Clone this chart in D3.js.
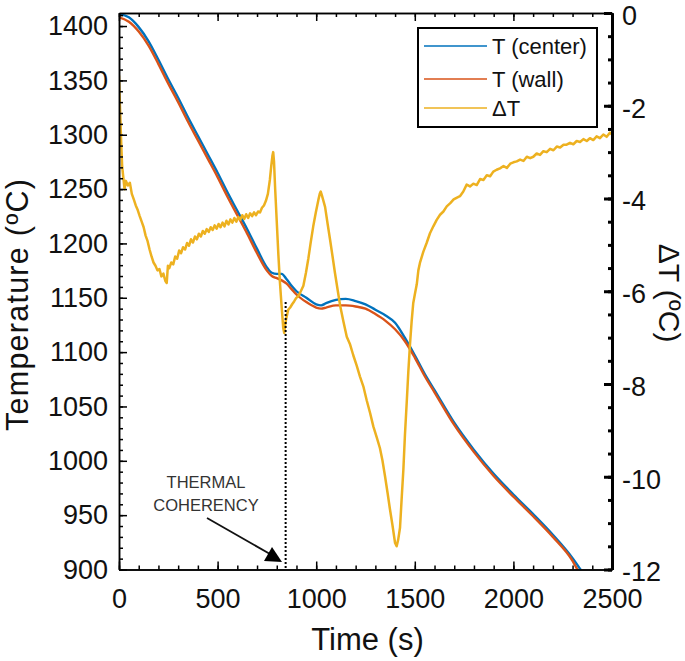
<!DOCTYPE html>
<html><head><meta charset="utf-8">
<script src="https://cdn.jsdelivr.net/npm/d3@7"></script>
<style>
html,body{margin:0;padding:0;background:#fff;}
svg text{font-family:"Liberation Sans",Arial,sans-serif;}
</style></head>
<body><svg id="c" width="685" height="661"></svg>
<script>
// ---- data ----
const timeTicks = [0, 500, 1000, 1500, 2000, 2500];
const tempTicks = [900, 950, 1000, 1050, 1100, 1150, 1200, 1250, 1300, 1350, 1400];
const dtTicks = [0, -2, -4, -6, -8, -10, -12];

const tCenterTime = [0,50,100,150,200,250,300,350,400,450,500,550,600,650,700,750,775,800,825,850,875,900,950,1000,1025,1050,1100,1150,1200,1250,1300,1350,1400,1450,1500,1550,1600,1700,1800,1900,2000,2100,2200,2300,2340,2360];
const tCenterTemp = [1411,1408,1399,1386,1369,1351,1334,1316,1299,1282,1265,1247,1230,1213,1195,1178,1173,1172,1172,1167,1161,1156,1150,1144,1143,1145,1148,1149,1147,1144,1139,1134,1127,1113,1097,1080,1065,1035,1010,988,969,951,932,910.5,900,894];

const tWallTime = [0,50,100,150,200,250,300,350,400,450,500,550,600,650,700,750,775,800,825,850,875,900,950,1000,1025,1050,1100,1150,1200,1250,1300,1350,1400,1450,1500,1550,1600,1700,1800,1900,2000,2100,2200,2300,2325,2345];
const tWallTemp = [1408,1404,1395,1382,1365,1347,1330,1312,1295,1278,1261,1243,1226,1209,1191,1175,1170,1168,1166,1163,1158,1153,1146,1141,1140,1141,1143,1143,1142,1140,1135,1129,1121,1110,1095,1078,1063,1033,1008,986,967,949,930,908,900,894];

const dTTime = [0,4,8,12,16,22,28,35,45,55,65,75,85,95,105,115,125,135,145,155,165,175,185,195,205,215,225,235,242,248,255,265,275,285,295,305,315,325,335,345,355,365,375,385,395,405,415,425,435,445,455,465,475,485,495,505,515,525,535,545,555,565,575,585,595,605,615,625,635,645,655,665,675,685,695,705,715,725,735,745,755,765,772,778,782,786,792,800,808,816,825,833,838,843,850,858,868,878,888,898,910,922,935,948,960,972,985,998,1011,1018,1023,1030,1045,1058,1070,1083,1095,1108,1121,1138,1155,1172,1188,1205,1222,1239,1256,1273,1290,1307,1323,1336,1349,1362,1374,1387,1400,1408,1416,1425,1433,1442,1450,1459,1467,1476,1484,1492,1501,1510,1518,1526,1543,1560,1577,1594,1611,1628,1645,1662,1680,1697,1714,1729,1746,1763,1780,1797,1814,1831,1848,1865,1882,1898,1915,1932,1950,1967,1984,2000,2017,2034,2051,2068,2085,2101,2118,2135,2152,2169,2186,2203,2220,2237,2254,2270,2287,2304,2321,2338,2355,2372,2388,2405,2422,2439,2456,2473,2490,2500];
const dTValue = [-1.35,-1.9,-2.4,-2.9,-3.3,-3.55,-3.8,-3.62,-3.72,-3.66,-3.9,-4.02,-4.15,-4.25,-4.38,-4.5,-4.62,-4.8,-4.92,-5.1,-5.25,-5.38,-5.45,-5.55,-5.52,-5.68,-5.62,-5.78,-5.82,-5.45,-5.5,-5.38,-5.42,-5.25,-5.3,-5.12,-5.18,-5.05,-5.1,-4.96,-5.02,-4.88,-4.95,-4.82,-4.88,-4.76,-4.82,-4.7,-4.76,-4.66,-4.72,-4.62,-4.68,-4.58,-4.65,-4.55,-4.62,-4.52,-4.6,-4.48,-4.56,-4.45,-4.52,-4.42,-4.5,-4.4,-4.46,-4.36,-4.44,-4.34,-4.42,-4.32,-4.38,-4.3,-4.36,-4.28,-4.3,-4.2,-4.15,-4.05,-3.9,-3.6,-3.3,-3.08,-3.0,-3.2,-3.8,-4.5,-5.2,-5.8,-6.35,-6.8,-6.9,-6.7,-6.55,-6.4,-6.35,-6.28,-6.22,-6.15,-6.1,-6.0,-5.88,-5.6,-5.3,-4.95,-4.6,-4.3,-4.03,-3.9,-3.85,-3.95,-4.18,-4.55,-4.88,-5.25,-5.6,-5.95,-6.3,-6.65,-6.98,-7.15,-7.38,-7.6,-7.84,-8.05,-8.35,-8.62,-8.92,-9.15,-9.38,-9.65,-9.99,-10.35,-10.7,-11.05,-11.43,-11.5,-11.35,-11.1,-10.5,-9.85,-9.1,-8.4,-7.75,-7.12,-6.65,-6.26,-6.05,-5.85,-5.55,-5.39,-5.15,-4.96,-4.75,-4.6,-4.46,-4.35,-4.28,-4.17,-4.1,-4.02,-3.98,-3.95,-3.85,-3.7,-3.74,-3.68,-3.71,-3.58,-3.6,-3.5,-3.52,-3.42,-3.38,-3.35,-3.3,-3.34,-3.25,-3.22,-3.2,-3.16,-3.19,-3.1,-3.13,-3.1,-3.03,-3.06,-2.98,-3.0,-2.93,-2.96,-2.88,-2.9,-2.84,-2.84,-2.8,-2.83,-2.76,-2.78,-2.72,-2.76,-2.7,-2.74,-2.66,-2.7,-2.62,-2.67,-2.58,-2.62];

const seriesNames = ["T (center)", "T (wall)", "\u0394T"];
const coherencyTime = 845;
const coherencyTop = 1146;

// ---- layout ----
const L = 119, R = 612, T = 13, B = 569.5;
const colors = ["#0072BD", "#D95319", "#EDB120"];
const svg = d3.select("#c");

const x = d3.scaleLinear().domain([0, 2500]).range([L, R]);
const y = d3.scaleLinear().domain([900, 1412]).range([B, T]);
const y2 = d3.scaleLinear().domain([-12, 0]).range([B, T]);

svg.append("clipPath").attr("id", "clip").append("rect")
  .attr("x", L).attr("y", T).attr("width", R - L).attr("height", B - T);

const g = svg.append("g").attr("clip-path", "url(#clip)");
const lineT = d3.line().curve(d3.curveMonotoneX).x(d => x(d[0])).y(d => y(d[1]));
const lineD = d3.line().x(d => x(d[0])).y(d => y2(d[1]));

g.append("path").datum(tCenterTime.map((t, i) => [t, tCenterTemp[i]]))
  .attr("d", lineT).attr("fill", "none").attr("stroke", colors[0]).attr("stroke-width", 2.4);
g.append("path").datum(tWallTime.map((t, i) => [t, tWallTemp[i]]))
  .attr("d", lineT).attr("fill", "none").attr("stroke", colors[1]).attr("stroke-width", 2.4);
g.append("path").datum(dTTime.map((t, i) => [t, dTValue[i]]))
  .attr("d", lineD).attr("fill", "none").attr("stroke", colors[2]).attr("stroke-width", 2.5)
  .attr("stroke-linejoin", "round");

// dotted line
svg.append("line").attr("x1", x(coherencyTime)).attr("x2", x(coherencyTime))
  .attr("y1", y(coherencyTop)).attr("y2", B)
  .attr("stroke", "#000").attr("stroke-width", 2).attr("stroke-dasharray", "2,2");

// axes
function styleAxis(sel, w, fs) {
  sel.selectAll("path").attr("stroke", "#000").attr("stroke-width", w);
  sel.selectAll("line").attr("stroke", "#000").attr("stroke-width", w);
  sel.selectAll("text").attr("font-size", fs).attr("fill", "#111")
    .style("font-family", "'Liberation Sans', Arial, sans-serif");
}
const minorX = d3.range(0, 2501, 100);
const minorT = d3.range(900, 1411, 10);
const minorD = d3.range(-12, 0.01, 0.5);

// bottom
svg.append("g").attr("transform", `translate(0,${B})`)
  .call(d3.axisBottom(x).tickValues(minorX).tickSize(-4).tickSizeOuter(0).tickFormat(""))
  .call(s => styleAxis(s, 1.5, 0));
svg.append("g").attr("transform", `translate(0,${B})`)
  .call(d3.axisBottom(x).tickValues(timeTicks).tickSize(-8).tickSizeOuter(0).tickPadding(19).tickFormat(d3.format("d")))
  .call(s => styleAxis(s, 1.5, 27));
// top
svg.append("g").attr("transform", `translate(0,${T})`)
  .call(d3.axisTop(x).tickValues(minorX).tickSize(-4).tickSizeOuter(0).tickFormat(""))
  .call(s => styleAxis(s, 1.5, 0));
svg.append("g").attr("transform", `translate(0,${T})`)
  .call(d3.axisTop(x).tickValues(timeTicks).tickSize(-8).tickSizeOuter(0).tickFormat(""))
  .call(s => styleAxis(s, 1.5, 0));
// left
svg.append("g").attr("transform", `translate(${L},0)`)
  .call(d3.axisLeft(y).tickValues(minorT).tickSize(-4).tickSizeOuter(0).tickFormat(""))
  .call(s => styleAxis(s, 1.5, 0));
svg.append("g").attr("transform", `translate(${L},0)`)
  .call(d3.axisLeft(y).tickValues(tempTicks).tickSize(-8).tickSizeOuter(0).tickPadding(11).tickFormat(d3.format("d")))
  .call(s => styleAxis(s, 1.5, 27));
// right
svg.append("g").attr("transform", `translate(${R},0)`)
  .call(d3.axisRight(y2).tickValues(minorD).tickSize(-4).tickSizeOuter(0).tickFormat(""))
  .call(s => styleAxis(s, 3, 0));
svg.append("g").attr("transform", `translate(${R},0)`)
  .call(d3.axisRight(y2).tickValues(dtTicks).tickSize(-8).tickSizeOuter(0).tickPadding(10).tickFormat(d3.format("d")))
  .call(s => styleAxis(s, 3, 27))
  .call(s => s.selectAll("text").attr("dy", "0.42em"));
svg.selectAll("text").filter(function(){return this.textContent.startsWith("\u2212");})
  .text(function(){return "-" + this.textContent.slice(1);});

// axis titles
svg.append("text").attr("x", (L + R) / 2 + 2).attr("y", 650).attr("text-anchor", "middle")
  .attr("font-size", 31).attr("fill", "#111").text("Time (s)");
svg.append("text").attr("transform", "translate(28,305) rotate(-90)").attr("text-anchor", "middle")
  .attr("font-size", 30.5).attr("fill", "#111")
  .attr("textLength", 252).attr("lengthAdjust", "spacing").text("Temperature (\u00baC)");
svg.append("text").attr("transform", "translate(659,293) rotate(90)").attr("text-anchor", "middle")
  .attr("font-size", 30).attr("fill", "#111").text("\u0394T (\u00baC)");

// legend
const lg = svg.append("g");
lg.append("rect").attr("x", 418).attr("y", 28).attr("width", 179).attr("height", 99)
  .attr("fill", "#fff").attr("stroke", "#000").attr("stroke-width", 2);
const ly = [46, 79, 108];
seriesNames.forEach((n, i) => {
  lg.append("line").attr("x1", 424).attr("x2", 487).attr("y1", ly[i]).attr("y2", ly[i])
    .attr("stroke", colors[i]).attr("stroke-width", 1.6);
  lg.append("text").attr("x", 492).attr("y", ly[i] + 8).attr("font-size", 22)
    .attr("fill", "#111").text(n);
});

// annotation
svg.append("text").attr("x", 206).attr("y", 488).attr("text-anchor", "middle")
  .attr("font-size", 16.5).attr("fill", "#333").text("THERMAL");
svg.append("text").attr("x", 206).attr("y", 511).attr("text-anchor", "middle")
  .attr("font-size", 16.5).attr("fill", "#333").text("COHERENCY");
svg.append("line").attr("x1", 207).attr("y1", 518).attr("x2", 270).attr("y2", 554)
  .attr("stroke", "#111").attr("stroke-width", 1.8);
svg.append("path").attr("d", "M282,562 L264,561 L272,547 Z").attr("fill", "#000");
</script></body></html>
